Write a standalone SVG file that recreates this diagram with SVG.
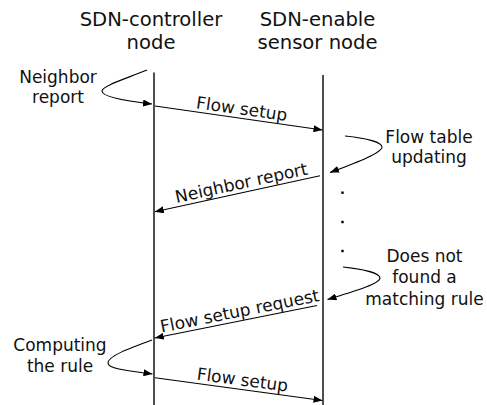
<svg xmlns="http://www.w3.org/2000/svg" width="487" height="405" viewBox="0 0 487 405">
<defs>
<style>
text{font-family:"DejaVu Sans","Liberation Sans",sans-serif;fill:#111}
.hdr{font-size:19.6px;text-anchor:middle}
.lbl{font-size:17px;text-anchor:middle}
.life{stroke:#222;stroke-width:1.6;fill:none}
.msg{stroke:#000;stroke-width:1.1;fill:none;marker-end:url(#ah)}
.dot{fill:#000}
</style>
<marker id="ah" viewBox="0 0 9 7" refX="9" refY="3.5" markerWidth="9" markerHeight="7" markerUnits="userSpaceOnUse" orient="auto">
<path d="M0,0 L9,3.5 L0,7 z" fill="#000"/>
</marker>
</defs>
<rect width="487" height="405" fill="#fff"/>
<g id="controller">
<text class="hdr" x="151" y="26.3">SDN-controller</text>
<text class="hdr" x="151" y="49.2">node</text>
<line class="life" x1="154" y1="72.5" x2="154" y2="405"/>
</g>
<g id="sensor">
<text class="hdr" x="317.5" y="26.3">SDN-enable</text>
<text class="hdr" x="317.5" y="49.2">sensor node</text>
<line class="life" x1="323" y1="75" x2="323" y2="405"/>
</g>
<g id="notes">
<text class="lbl" x="58" y="83">Neighbor</text>
<text class="lbl" x="58" y="103">report</text>
<text class="lbl" x="429" y="143.3">Flow table</text>
<text class="lbl" x="429" y="163.3">updating</text>
<text class="lbl" x="424.5" y="262.3">Does not</text>
<text class="lbl" x="424.5" y="283.3">found a</text>
<text class="lbl" x="424.5" y="304.5">matching rule</text>
<text class="lbl" x="60" y="351.3">Computing</text>
<text class="lbl" x="60" y="372">the rule</text>
<rect class="dot" x="341.3" y="191.5" width="2.4" height="2.4"/>
<rect class="dot" x="341.3" y="220.8" width="2.4" height="2.4"/>
<rect class="dot" x="341.3" y="249.8" width="2.4" height="2.4"/>
</g>
<g id="connectors">
<path class="msg" d="M147,70 C125,79 102,86 102,91 C102,97 125,101 152,104"/>
<line class="msg" x1="155" y1="106" x2="322.5" y2="130"/>
<path class="msg" d="M345,136 C365,138 382,142 382,147 C382,153 355,163 330,172.5"/>
<line class="msg" x1="320" y1="175.7" x2="154.8" y2="211.7"/>
<path class="msg" d="M343,267 C362,269 380,273 380,278 C380,284 352,292 327.5,299.5"/>
<line class="msg" x1="317" y1="305.5" x2="154.8" y2="338"/>
<path class="msg" d="M152,340 C130,348 108,356 108,363 C108,369 130,371 152.5,374"/>
<line class="msg" x1="155" y1="377.7" x2="322.5" y2="400.5"/>
<text class="lbl" transform="translate(241,114.6) rotate(8.1)">Flow setup</text>
<text class="lbl" transform="translate(242.5,188.6) rotate(-12.3)">Neighbor report</text>
<text class="lbl" transform="translate(240.8,316.7) rotate(-11.3)">Flow setup request</text>
<text class="lbl" transform="translate(241.7,385.6) rotate(7.6)">Flow setup</text>
</g>
</svg>
